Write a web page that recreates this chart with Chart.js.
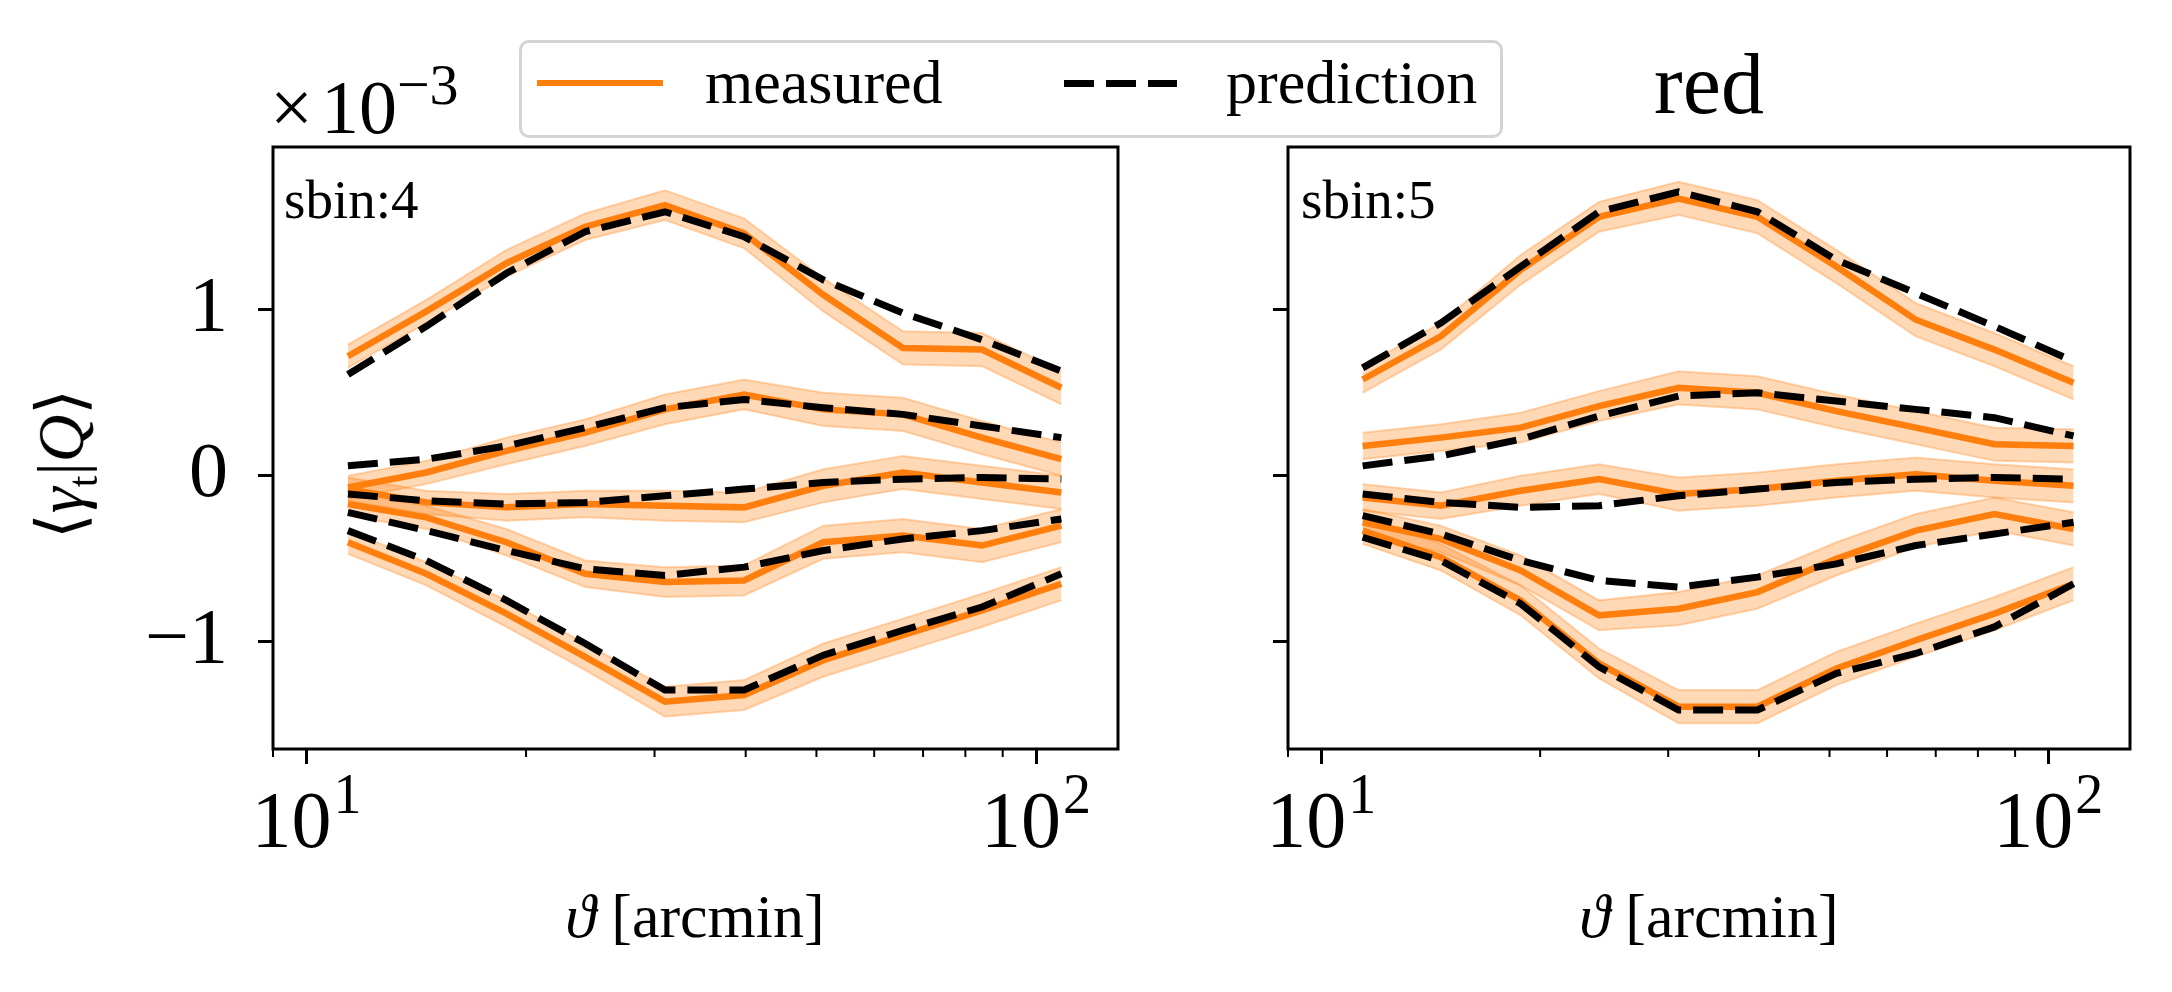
<!DOCTYPE html>
<html>
<head>
<meta charset="utf-8">
<script src="https://cdn.jsdelivr.net/npm/chart.js@4.4.0/dist/chart.umd.min.js"></script>
<style>
  html, body { margin: 0; padding: 0; background: #fff; overflow: hidden; }
  body { width: 2172px; height: 992px; position: relative; font-family: 'Liberation Serif', 'DejaVu Serif', serif; color: #000; }
  .pane { position: absolute; top: 0; height: 992px; }
  .txt { position: absolute; line-height: 1; white-space: nowrap; }
</style>
</head>
<body>
<div class="pane" style="left:0;width:1160px"><canvas id="chart4" width="1160" height="992"></canvas></div>
<div class="pane" style="left:1160px;width:1012px"><canvas id="chart5" width="1012" height="992"></canvas></div>

<!-- texts around the panels -->
<div class="txt" style="left:270px;top:69px;font-size:76px">×<span style="margin-left:8px">10</span><span style="font-size:58px;position:relative;top:-29px">−3</span></div>
<div class="txt" style="left:284px;top:172px;font-size:55px">sbin:4</div>
<div class="txt" style="left:1301px;top:172px;font-size:55px">sbin:5</div>
<div class="txt" style="left:1509px;top:41px;width:400px;text-align:center;font-size:86px">red</div>
<div class="txt" style="left:395px;top:885px;width:600px;text-align:center;font-size:62px"><i>ϑ</i> [arcmin]</div>
<div class="txt" style="left:1409px;top:885px;width:600px;text-align:center;font-size:62px"><i>ϑ</i> [arcmin]</div>
<div class="txt" style="left:66px;top:464px;font-size:66px;transform:translate(-50%,-50%) rotate(-90deg)">⟨<i>γ</i><sub style="font-size:42px">t</sub>|<i>Q</i>⟩</div>

<!-- legend -->
<div style="position:absolute;left:519px;top:40px;width:978px;height:92px;border:3px solid #d4d4d4;border-radius:10px;background:#fff"></div>
<div style="position:absolute;left:537px;top:80px;width:126px;height:6px;background:#ff7f0e"></div>
<div class="txt" style="left:705px;top:51px;font-size:62px">measured</div>
<div style="position:absolute;left:1064px;top:80px;width:113px;height:7px;background:repeating-linear-gradient(90deg,#000 0 30px,transparent 30px 42px)"></div>
<div class="txt" style="left:1226px;top:51px;font-size:62px">prediction</div>

<script>
// angular bins, arcmin
const theta = [11.4, 14.6, 18.8, 24.1, 31.0, 39.8, 51.1, 65.7, 84.3, 108.3];

// values in units of 1e-3, five quantiles per source bin
const sbin4Measured = [
  [0.72, 0.99, 1.28, 1.50, 1.63, 1.46, 1.09, 0.77, 0.76, 0.53],
  [-0.07, 0.02, 0.15, 0.26, 0.40, 0.49, 0.40, 0.37, 0.23, 0.10],
  [-0.08, -0.16, -0.19, -0.17, -0.18, -0.19, -0.06, 0.02, -0.04, -0.10],
  [-0.17, -0.25, -0.40, -0.59, -0.64, -0.63, -0.40, -0.36, -0.42, -0.30],
  [-0.40, -0.59, -0.83, -1.09, -1.36, -1.32, -1.11, -0.96, -0.81, -0.65]
];
const sbin4Predicted = [
  [0.61, 0.90, 1.22, 1.47, 1.59, 1.44, 1.18, 0.98, 0.82, 0.63],
  [0.06, 0.10, 0.18, 0.29, 0.41, 0.46, 0.41, 0.37, 0.30, 0.23],
  [-0.11, -0.15, -0.17, -0.16, -0.12, -0.08, -0.04, -0.02, -0.01, -0.02],
  [-0.22, -0.33, -0.45, -0.56, -0.60, -0.55, -0.45, -0.38, -0.33, -0.26],
  [-0.33, -0.51, -0.75, -1.01, -1.29, -1.29, -1.08, -0.93, -0.79, -0.59]
];
const sbin4Err = [0.07, 0.07, 0.08, 0.08, 0.09, 0.09, 0.1, 0.1, 0.1, 0.1];

const sbin5Measured = [
  [0.58, 0.84, 1.24, 1.56, 1.67, 1.56, 1.26, 0.94, 0.76, 0.56],
  [0.18, 0.23, 0.29, 0.42, 0.53, 0.50, 0.39, 0.29, 0.19, 0.18],
  [-0.13, -0.18, -0.09, -0.02, -0.11, -0.08, -0.03, 0.01, -0.03, -0.06],
  [-0.28, -0.38, -0.57, -0.84, -0.80, -0.70, -0.50, -0.33, -0.23, -0.32],
  [-0.33, -0.49, -0.75, -1.13, -1.39, -1.39, -1.16, -0.99, -0.83, -0.65]
];
const sbin5Predicted = [
  [0.65, 0.92, 1.26, 1.59, 1.71, 1.59, 1.30, 1.10, 0.90, 0.69],
  [0.06, 0.12, 0.22, 0.36, 0.48, 0.50, 0.45, 0.40, 0.35, 0.24],
  [-0.11, -0.16, -0.19, -0.18, -0.12, -0.08, -0.04, -0.02, -0.01, -0.02],
  [-0.24, -0.35, -0.51, -0.63, -0.67, -0.61, -0.53, -0.42, -0.35, -0.28],
  [-0.37, -0.51, -0.77, -1.15, -1.41, -1.41, -1.19, -1.07, -0.91, -0.65]
];
const sbin5Err = [0.08, 0.08, 0.09, 0.09, 0.1, 0.1, 0.1, 0.1, 0.1, 0.1];

const yTicks = [-1, 0, 1];
const xMajor = [10, 100];

const ORANGE = '#ff7f0e';
const BAND = 'rgba(255,127,14,0.3)';
const FONT = "'Liberation Serif', 'DejaVu Serif', serif";

function pts(vals, err, sign) {
    return theta.map((t, k) => ({x: t, y: vals[k] + sign * err[k]}));
}

function buildDatasets(measured, predicted, err) {
    var sets = [];
    for (var i = 0; i < measured.length; i++) {
        sets.push({data: pts(measured[i], err, -1), borderColor: BAND, borderWidth: 2, pointRadius: 0, fill: false, order: 3});
        sets.push({data: pts(measured[i], err, 1), borderColor: BAND, borderWidth: 2, backgroundColor: BAND, pointRadius: 0, fill: '-1', order: 3});
        sets.push({data: pts(measured[i], err, 0), borderColor: ORANGE, borderWidth: 6.5, pointRadius: 0, fill: false, order: 2});
        sets.push({data: pts(predicted[i], err, 0), borderColor: '#000', borderWidth: 7, borderDash: [30, 12], borderCapStyle: 'butt', pointRadius: 0, fill: false, order: 1});
    }
    return sets;
}

// frame, minor log ticks and 10^n labels
const axesDecor = {
    id: 'axesDecor',
    afterDraw(chart) {
        const ctx = chart.ctx;
        const a = chart.chartArea;
        const xs = chart.scales.x;
        ctx.save();
        ctx.strokeStyle = '#000';
        ctx.lineWidth = 3;
        ctx.strokeRect(a.left, a.top, a.right - a.left, a.bottom - a.top);

        ctx.lineWidth = 2;
        [1, 10, 100].forEach(d => {
            for (var m = 2; m <= 9; m++) {
                var v = m * d;
                if (v < xs.min || v > xs.max) continue;
                var px = xs.getPixelForValue(v);
                ctx.beginPath();
                ctx.moveTo(px, a.bottom);
                ctx.lineTo(px, a.bottom + 8);
                ctx.stroke();
            }
        });

        ctx.fillStyle = '#000';
        ctx.textBaseline = 'alphabetic';
        ctx.textAlign = 'left';
        xMajor.forEach(v => {
            var px = xs.getPixelForValue(v);
            var sup = String(Math.round(Math.log10(v)));
            ctx.font = '80px ' + FONT;
            var wBase = ctx.measureText('10').width;
            ctx.font = '56px ' + FONT;
            var wSup = ctx.measureText(sup).width;
            var x0 = px - (wBase + wSup + 2) / 2;
            ctx.font = '80px ' + FONT;
            ctx.fillText('10', x0, a.bottom + 98);
            ctx.font = '56px ' + FONT;
            ctx.fillText(sup, x0 + wBase + 2, a.bottom + 64);
        });
        ctx.restore();
    }
};

function makeChart(id, measured, predicted, err, yWidth, padRight, showYLabels) {
    return new Chart(document.getElementById(id), {
        type: 'line',
        data: {datasets: buildDatasets(measured, predicted, err)},
        plugins: [axesDecor],
        options: {
            responsive: false,
            animation: false,
            layout: {padding: {left: 0, right: padRight, top: 147, bottom: 143}},
            plugins: {legend: {display: false}, tooltip: {enabled: false}},
            elements: {line: {tension: 0}},
            scales: {
                x: {
                    type: 'logarithmic',
                    min: 9,
                    max: 129.5,
                    border: {display: false},
                    grid: {
                        drawOnChartArea: false,
                        tickLength: 15,
                        tickWidth: 3,
                        tickColor: ctx => (ctx.tick && xMajor.includes(ctx.tick.value)) ? '#000' : 'rgba(0,0,0,0)'
                    },
                    ticks: {autoSkip: false, callback: () => ''},
                    afterFit: s => { s.height = 100; }
                },
                y: {
                    min: -1.645,
                    max: 1.98,
                    border: {display: false},
                    grid: {drawOnChartArea: false, tickLength: 15, tickWidth: 3, color: '#000'},
                    afterBuildTicks: s => { s.ticks = yTicks.map(v => ({value: v})); },
                    ticks: {
                        display: showYLabels,
                        padding: 30,
                        color: '#000',
                        font: {family: FONT, size: 78},
                        callback: v => v < 0 ? '\u2212' + Math.abs(v) : String(v)
                    },
                    afterFit: s => { s.width = yWidth; }
                }
            }
        }
    });
}

var chart4 = makeChart('chart4', sbin4Measured, sbin4Predicted, sbin4Err, 273, 42, true);
var chart5 = makeChart('chart5', sbin5Measured, sbin5Predicted, sbin5Err, 128, 42, false);
</script>
</body>
</html>
